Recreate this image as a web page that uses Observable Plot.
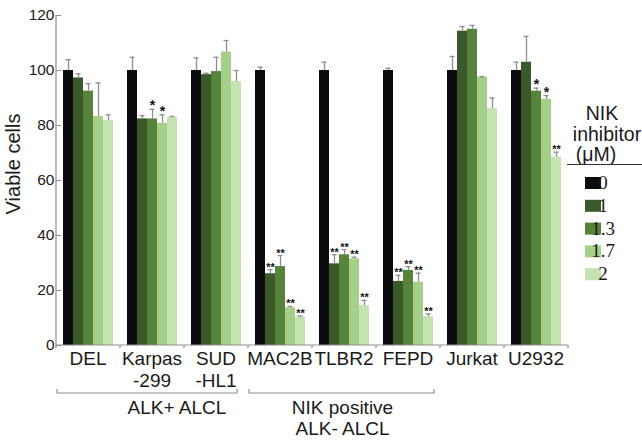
<!DOCTYPE html>
<html>
<head>
<meta charset="utf-8">
<script src="https://cdn.jsdelivr.net/npm/d3@7"></script>
<script src="https://cdn.jsdelivr.net/npm/@observablehq/plot@0.6"></script>
<style>
  html, body { margin: 0; padding: 0; background: #fff; }
  #chart { width: 642px; height: 440px; position: relative; }
  svg { font-family: "Liberation Sans", Arial, sans-serif; }
</style>
</head>
<body>
<div id="chart"></div>
<script>
// ---- data ----
const cells = ["DEL", "Karpas\n-299", "SUD\n-HL1", "MAC2B", "TLBR2", "FEPD", "Jurkat", "U2932"];
const doses = ["0", "1", "1.3", "1.7", "2"];
const doseColors = ["#0b0c0e", "#3b5a2a", "#55843a", "#a5d08a", "#c6e2b3"];
const yTicks = [0, 20, 40, 60, 80, 100, 120];

// mean viable cells (%) per cell line, one value per dose
const meanDEL    = [100, 97.3, 92.5, 83.3, 81.8];
const meanKarpas = [100, 82.4, 82.4, 80.8, 83.0];
const meanSUD    = [100, 98.5, 99.6, 106.7, 96.0];
const meanMAC2B  = [100, 26.1, 28.7, 13.7, 10.3];
const meanTLBR2  = [100, 29.7, 33.0, 31.5, 14.5];
const meanFEPD   = [100, 23.3, 27.3, 23.0, 10.5];
const meanJurkat = [100, 114.3, 115.0, 97.6, 86.1];
const meanU2932  = [100, 103.0, 92.5, 89.5, 68.5];

// top of error bar
const errDEL    = [103.9, 98.8, 95.2, 95.5, 83.9];
const errKarpas = [104.8, 83.6, 85.9, 83.9, 83.3];
const errSUD    = [104.6, 99.0, 104.8, 110.9, 100.0];
const errMAC2B  = [101.2, 27.6, 32.7, 14.2, 10.7];
const errTLBR2  = [103.0, 33.0, 34.9, 32.1, 16.4];
const errFEPD   = [100.8, 25.5, 28.7, 26.3, 11.5];
const errJurkat = [105.1, 116.0, 116.4, 97.8, 90.0];
const errU2932  = [103.0, 112.4, 93.6, 90.9, 70.3];

// significance marks
const sigDEL    = ["", "", "", "", ""];
const sigKarpas = ["", "", "*", "*", ""];
const sigSUD    = ["", "", "", "", ""];
const sigMAC2B  = ["", "**", "**", "**", "**"];
const sigTLBR2  = ["", "**", "**", "**", "**"];
const sigFEPD   = ["", "**", "**", "**", "**"];
const sigJurkat = ["", "", "", "", ""];
const sigU2932  = ["", "", "*", "*", "**"];

const groups = [
  {label: "ALK+ ALCL", from: "DEL", to: "SUD\n-HL1"},
  {label: "NIK positive\nALK- ALCL", from: "MAC2B", to: "FEPD"}
];
const legendTitle = ["NIK", "inhibitor", "(\u03bcM)"];
const yLabel = "Viable cells";

// ---- build table ----
const means = [meanDEL, meanKarpas, meanSUD, meanMAC2B, meanTLBR2, meanFEPD, meanJurkat, meanU2932];
const errs  = [errDEL, errKarpas, errSUD, errMAC2B, errTLBR2, errFEPD, errJurkat, errU2932];
const sigs  = [sigDEL, sigKarpas, sigSUD, sigMAC2B, sigTLBR2, sigFEPD, sigJurkat, sigU2932];
const data = [];
cells.forEach((c, i) => doses.forEach((d, j) => {
  data.push({cell: c, dose: d, value: means[i][j], hi: errs[i][j], sig: sigs[i][j]});
}));

const W = 642, H = 440;
const plot = Plot.plot({
  width: W, height: H,
  marginLeft: 56, marginRight: 74, marginTop: 15, marginBottom: 95,
  style: {fontFamily: "'Liberation Sans', Arial, sans-serif", color: "#1a1a1a", background: "white"},
  fx: {domain: cells, paddingInner: 0.17, paddingOuter: 0.085, label: null},
  x: {domain: doses, padding: 0, axis: null},
  y: {domain: [0, 120], label: null},
  color: {domain: doses, range: doseColors},
  marks: [
    Plot.barY(data, {fx: "cell", x: "dose", y: "value", fill: "dose"}),
    Plot.ruleX(data, {fx: "cell", x: "dose", y1: "value", y2: "hi", stroke: "#8e8e8e", strokeWidth: 1.3}),
    Plot.tickY(data, {fx: "cell", x: "dose", y: "hi", stroke: "#8e8e8e", strokeWidth: 1.3, insetLeft: 2.5, insetRight: 2.5}),
    Plot.text(data.filter(d => d.sig === "*"), {fx: "cell", x: "dose", y: "hi", text: "sig", lineAnchor: "bottom", dy: 1, fontSize: 14, fontWeight: "bold", fill: "#111"}),
    Plot.text(data.filter(d => d.sig === "**"), {fx: "cell", x: "dose", y: "hi", text: "sig", lineAnchor: "bottom", dy: 1, fontSize: 11, fontWeight: "bold", fill: "#111"}),
    Plot.axisY({ticks: yTicks, tickSize: 5, tickPadding: 2, fontSize: 15.5, stroke: "#8e8e8e", label: null}),
    Plot.axisFx({anchor: "bottom", tickSize: 0, tickPadding: 3, fontSize: 19, lineHeight: 1.2, label: null})
  ]
});
document.getElementById("chart").appendChild(plot);

// ---- overlays computed from the plot's scales ----
const svg = d3.select(plot.tagName.toLowerCase() === "svg" ? plot : plot.querySelector("svg"));
const fx = plot.scale("fx");
const y = plot.scale("y");
const bw = fx.bandwidth, step = fx.step;
const x0 = fx.range[0], x1 = fx.range[1];
const y0 = y.apply(0), yTop = y.apply(120);

const ov = svg.append("g").attr("fill", "none").attr("stroke", "#8e8e8e").attr("stroke-width", 1.2);
// y axis line
ov.append("line").attr("x1", x0).attr("x2", x0).attr("y1", yTop).attr("y2", y0);
// x axis line with boundary ticks
ov.append("line").attr("x1", x0).attr("x2", x1).attr("y1", y0).attr("y2", y0);
d3.range(cells.length + 1).forEach(i => {
  const xx = x0 + i * step;
  ov.append("line").attr("x1", xx).attr("x2", xx).attr("y1", y0).attr("y2", y0 + 3);
});

// group brackets
const by = y0 + 48;
groups.forEach((g, k) => {
  const a = fx.apply(g.from) - 4;
  const b = fx.apply(g.to) + bw - (k === 0 ? 5 : 0);
  ov.append("path").attr("d", `M${a},${by - 4}V${by}H${b}V${by - 4}`);
  const lines = g.label.split("\n");
  const cx = (a + b) / 2 + (k === 0 ? 30 : 1);
  const t = svg.append("text").attr("text-anchor", "middle").attr("font-size", 19).attr("fill", "#1a1a1a");
  lines.forEach((ln, i) => t.append("tspan").attr("x", cx).attr("y", by + 21 + i * 21).text(ln));
});

// y label
svg.append("text")
  .attr("transform", `translate(20,${(y0 + yTop) / 2 - 16}) rotate(-90)`)
  .attr("text-anchor", "middle").attr("font-size", 20).attr("fill", "#1a1a1a")
  .text(yLabel);

// legend
const lg = svg.append("g");
const lt = [[602, 120], [607, 141], [596, 161]];
legendTitle.forEach((s, i) => lg.append("text").attr("x", lt[i][0]).attr("y", lt[i][1])
  .attr("text-anchor", "middle").attr("font-size", 19.5).attr("fill", "#1a1a1a").text(s));
lg.append("line").attr("x1", 567).attr("x2", W).attr("y1", 164.5).attr("y2", 164.5)
  .attr("stroke", "#333").attr("stroke-width", 1);
const color = plot.scale("color");
doses.forEach((d, i) => {
  const yy = 177 + i * 22.8;
  lg.append("rect").attr("x", 585).attr("y", yy).attr("width", 16).attr("height", 12).attr("fill", color.apply(d));
  lg.append("text").attr("x", 603).attr("y", yy + 12).attr("font-size", 19)
    .attr("font-family", "'Liberation Serif', 'Times New Roman', serif").attr("fill", "#1a1a1a").text(d);
});
</script>
</body>
</html>
